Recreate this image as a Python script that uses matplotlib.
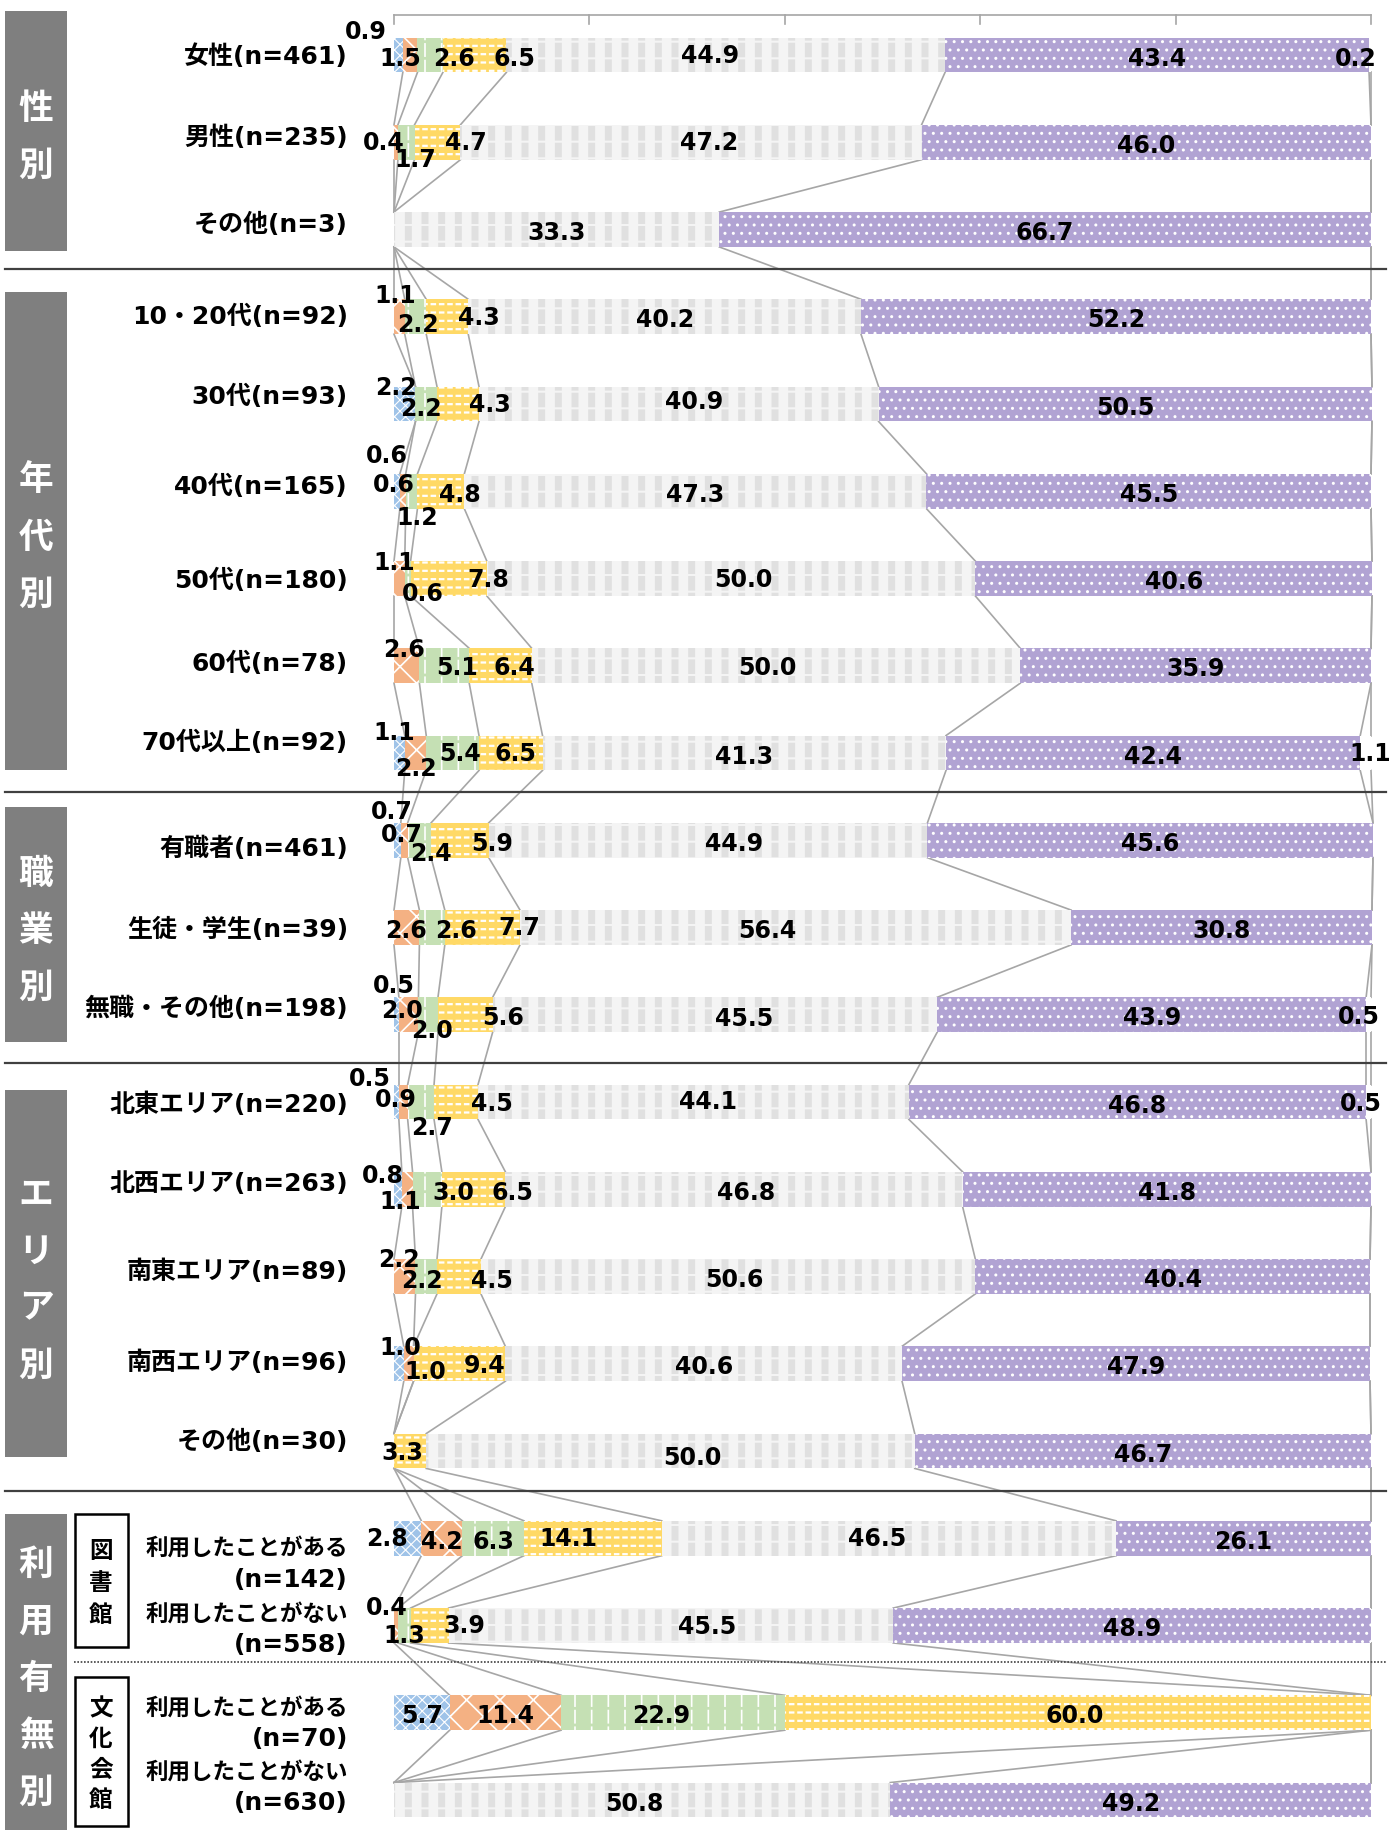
import matplotlib
matplotlib.use('Agg')
import matplotlib.pyplot as plt
from matplotlib.patches import Rectangle

plt.rcParams['font.family'] = ['DejaVu Sans', 'Noto Sans CJK JP']
plt.rcParams['hatch.linewidth'] = 1.0

# ---- data (percent, top row first) ----
categories = [
    "女性(n=461)", "男性(n=235)", "その他(n=3)",
    "10・20代(n=92)", "30代(n=93)", "40代(n=165)", "50代(n=180)", "60代(n=78)", "70代以上(n=92)",
    "有職者(n=461)", "生徒・学生(n=39)", "無職・その他(n=198)",
    "北東エリア(n=220)", "北西エリア(n=263)", "南東エリア(n=89)", "南西エリア(n=96)", "その他(n=30)",
    "利用したことがある\n(n=142)", "利用したことがない\n(n=558)",
    "利用したことがある\n(n=70)", "利用したことがない\n(n=630)",
]
blue = [0.9, 0, 0, 0, 2.2, 0.6, 0, 0, 1.1, 0.7, 0, 0.5, 0.5, 0.8, 0, 1.0, 0, 2.8, 0, 5.7, 0]
orange = [1.5, 0.4, 0, 1.1, 0, 0.6, 1.1, 2.6, 2.2, 0.7, 2.6, 2.0, 0.9, 1.1, 2.2, 1.0, 0, 4.2, 0.4, 11.4, 0]
green = [2.6, 1.7, 0, 2.2, 2.2, 1.2, 0.6, 5.1, 5.4, 2.4, 2.6, 2.0, 2.7, 3.0, 2.2, 0, 0, 6.3, 1.3, 22.9, 0]
yellow = [6.5, 4.7, 0, 4.3, 4.3, 4.8, 7.8, 6.4, 6.5, 5.9, 7.7, 5.6, 4.5, 6.5, 4.5, 9.4, 3.3, 14.1, 3.9, 60.0, 0]
grey = [44.9, 47.2, 33.3, 40.2, 40.9, 47.3, 50.0, 50.0, 41.3, 44.9, 56.4, 45.5, 44.1, 46.8, 50.6, 40.6, 50.0,
        46.5, 45.5, 0, 50.8]
purple = [43.4, 46.0, 66.7, 52.2, 50.5, 45.5, 40.6, 35.9, 42.4, 45.6, 30.8, 43.9, 46.8, 41.8, 40.4, 47.9, 46.7,
          26.1, 48.9, 0, 49.2]
white = [0.2, 0, 0, 0, 0, 0, 0, 0, 1.1, 0, 0, 0.5, 0.5, 0, 0, 0, 0, 0, 0, 0, 0]

groups = ["性別", "年代別", "職業別", "エリア別", "利用有無別"]
subgroups = ["図書館", "文化会館"]

series = [blue, orange, green, yellow, grey, purple, white]
# facecolor, hatch, hatch colour, hatch linewidth
styles = [
    ('#9fc3e8', 'xxx', 'white', 0.8),
    ('#f4b183', 'x', 'white', 1.2),
    ('#c5e0b4', '|', 'white', 1.2),
    ('#ffd966', '--', 'white', 1.6),
    ('#f4f4f4', '|', '#e0e0e0', 5.0),
    ('#b1a3d3', '..', 'white', 1.0),
    ('white', '', 'white', 1.0),
]
# overlays that break the stripes into dashes: (series index, hatch, colour, lw)
overlays = [(3, '||', '#ffd966', 2.0), (2, '-', '#c5e0b4', 2.0), (4, '-', '#f4f4f4', 1.5)]

# ---- pixel geometry helpers ----
W, H = 1397, 1831
X0, SX = 394, 9.77      # px of 0 %, px per %
Y0, SY = 56, 87.25      # px of first row, px per row


def px_x(p):
    return (p - X0) / SX


def px_y(p):
    return (p - Y0) / SY


fig = plt.figure(figsize=(W / 100, H / 100), dpi=100)
ax = fig.add_axes([0, 0, 1, 1])
ax.set_xlim(px_x(0), px_x(W))
ax.set_ylim(px_y(H), px_y(0))
ax.axis('off')

n = len(categories)
rows = list(range(n))
h = 0.4

# stacked bars
lefts = [0.0] * n
cums = []
starts = []
for vals, (fc, hatch, hc, hlw) in zip(series, styles):
    with plt.rc_context({'hatch.linewidth': hlw}):
        ax.barh(rows, vals, left=lefts, height=h, color=fc, hatch=hatch,
                edgecolor=hc, linewidth=0, zorder=2)
    starts.append(lefts)
    lefts = [l + v for l, v in zip(lefts, vals)]
    cums.append(lefts)

for k, hatch, col, hlw in overlays:
    with plt.rc_context({'hatch.linewidth': hlw}):
        ax.barh(rows, series[k], left=starts[k], height=h, fill=False, hatch=hatch,
                edgecolor=col, linewidth=0, zorder=2.1)

# series lines between neighbouring bars
for cum in cums:
    for i in range(n - 1):
        ax.plot([cum[i], cum[i + 1]], [i + h / 2, i + 1 - h / 2],
                color='#a6a6a6', lw=1.2, zorder=1)

# top axis with ticks
ytop = px_y(16)
ax.plot([0, 100], [ytop, ytop], color='#a6a6a6', lw=1.2, zorder=1)
for t in range(0, 101, 20):
    ax.plot([t, t], [ytop, ytop + 9 / SY], color='#a6a6a6', lw=1.2, zorder=1)

# value labels: default centred, manual offsets for crowded ones
label_pos = {
    (0, 0): (-2.9, -0.27), (0, 1): (0.6, 0.03), (0, 2): (6.1, 0.03), (0, 3): (12.3, 0.03),
    (0, 4): (32.3, 0), (0, 6): (98.4, 0.03),
    (1, 1): (-1.0, 0), (1, 2): (2.2, 0.19), (1, 3): (7.4, 0), (1, 4): (32.2, 0),
    (3, 1): (0.1, -0.25), (3, 2): (2.5, 0.08), (3, 3): (8.7, 0),
    (4, 0): (0.2, -0.2), (4, 2): (2.75, 0.05), (4, 3): (9.8, 0), (4, 4): (30.7, -0.03),
    (5, 0): (-0.7, -0.41), (5, 1): (0.0, -0.08), (5, 2): (2.4, 0.29), (5, 3): (6.7, 0.03),
    (6, 1): (0.0, -0.19), (6, 2): (2.9, 0.17), (6, 3): (9.7, 0.01), (6, 4): (35.8, 0.01),
    (7, 1): (1.0, -0.19), (7, 2): (6.5, 0.01), (7, 3): (12.3, 0.01), (7, 4): (38.2, 0.01),
    (8, 0): (0.0, -0.24), (8, 1): (2.2, 0.17), (8, 2): (6.8, 0), (8, 3): (12.4, 0), (8, 6): (99.9, 0),
    (9, 0): (-0.2, -0.33), (9, 1): (0.8, -0.07), (9, 2): (3.8, 0.15), (9, 3): (10.0, 0.03),
    (9, 4): (34.8, 0.03),
    (10, 1): (1.2, 0.03), (10, 2): (6.3, 0.03), (10, 3): (12.8, 0), (10, 4): (38.2, 0.03),
    (11, 0): (0.0, -0.34), (11, 1): (0.8, -0.06), (11, 2): (3.9, 0.17), (11, 3): (11.2, 0.03),
    (11, 4): (35.8, 0.04), (11, 6): (98.8, 0.01),
    (12, 0): (-2.5, -0.28), (12, 1): (0.2, -0.03), (12, 2): (3.9, 0.29), (12, 3): (10.0, 0.01),
    (12, 4): (32.1, -0.01), (12, 6): (99.0, 0.01),
    (13, 0): (-1.1, -0.16), (13, 1): (0.6, 0.13), (13, 2): (6.1, 0.03), (13, 3): (12.1, 0.03),
    (13, 4): (36.0, 0.03),
    (14, 1): (0.5, -0.2), (14, 2): (2.9, 0.04), (14, 3): (10.0, 0.04), (14, 4): (34.8, 0.03),
    (15, 0): (0.6, -0.19), (15, 1): (3.2, 0.08), (15, 3): (9.3, 0.01),
    (16, 3): (0.9, 0.01), (16, 4): (30.5, 0.07),
    (17, 0): (-0.7, 0), (17, 3): (17.8, 0), (17, 4): (49.5, 0),
    (18, 1): (-0.7, -0.21), (18, 2): (1.1, 0.11), (18, 3): (7.2, 0), (18, 4): (32.1, 0.01),
    (19, 2): (27.3, 0.03), (19, 3): (69.7, 0.03),
    (20, 4): (24.6, 0.03),
}
for k, vals in enumerate(series):
    for i, v in enumerate(vals):
        if v <= 0:
            continue
        x, dy = label_pos.get((i, k), (starts[k][i] + v / 2, 0.03))
        ax.text(x, i + dy, f"{v:.1f}", ha='center', va='center', fontsize=17,
                fontweight='bold', family='DejaVu Sans', color='black', zorder=5)

# category labels (two-line ones drawn line by line)
label_dy = [0.01, -0.06, -0.06, -0.01, -0.09, -0.06, 0.02, -0.03, -0.13, 0.09, 0.02, -0.08,
            0.02, -0.07, -0.06, -0.02, -0.11]
two_line_dy = [(0.11, 0.47), (-0.14, 0.21), (-0.06, 0.29), (-0.33, 0.02)]
xl = px_x(348)
for i, name in enumerate(categories):
    if '\n' in name:
        first, second = name.split('\n')
        d1, d2 = two_line_dy[i - 17]
        ax.text(xl, i + d1, first, ha='right', va='center', fontsize=16.2,
                fontweight='bold', zorder=5)
        ax.text(xl, i + d2, second, ha='right', va='center', fontsize=18,
                fontweight='bold', zorder=5)
    else:
        ax.text(xl, i + label_dy[i], name, ha='right', va='center', fontsize=18,
                fontweight='bold', zorder=5)

# section separators
for yp in [270, 793, 1064, 1492]:
    ax.plot([px_x(5), px_x(1386)], [px_y(yp)] * 2, color='#404040', lw=1.6, zorder=3)
ax.plot([px_x(74), px_x(1386)], [px_y(1663)] * 2, color='#404040', lw=1.2,
        ls=(0, (1, 1)), zorder=3)

# grey group boxes with vertical white text
group_px = [(12, 252), (293, 771), (808, 1043), (1091, 1458), (1515, 1831)]
for name, (top, bot) in zip(groups, group_px):
    ax.add_patch(Rectangle((px_x(5), px_y(bot)), px_x(67) - px_x(5), px_y(top) - px_y(bot),
                           facecolor='#7f7f7f', edgecolor='none', zorder=3))
    mid = (top + bot) / 2 + 5
    for j, ch in enumerate(name):
        yp = mid + (j - (len(name) - 1) / 2) * 57
        ax.text(px_x(36), px_y(yp), ch, ha='center', va='center', fontsize=25,
                fontweight='bold', color='white', family='Noto Sans CJK JP', zorder=4)

# sub boxes inside 利用有無別
sub_px = [(1515, 1648), (1678, 1827)]
sub_step = [32, 30.5]
for name, (top, bot), step in zip(subgroups, sub_px, sub_step):
    ax.add_patch(Rectangle((px_x(75), px_y(bot)), px_x(128) - px_x(75), px_y(top) - px_y(bot),
                           facecolor='white', edgecolor='black', lw=1.8, zorder=3))
    mid = (top + bot) / 2 + 2
    for j, ch in enumerate(name):
        yp = mid + (j - (len(name) - 1) / 2) * step
        ax.text(px_x(101), px_y(yp), ch, ha='center', va='center', fontsize=17,
                fontweight='bold', color='black', family='Noto Sans CJK JP', zorder=4)

fig.savefig('out.png', dpi=100)
